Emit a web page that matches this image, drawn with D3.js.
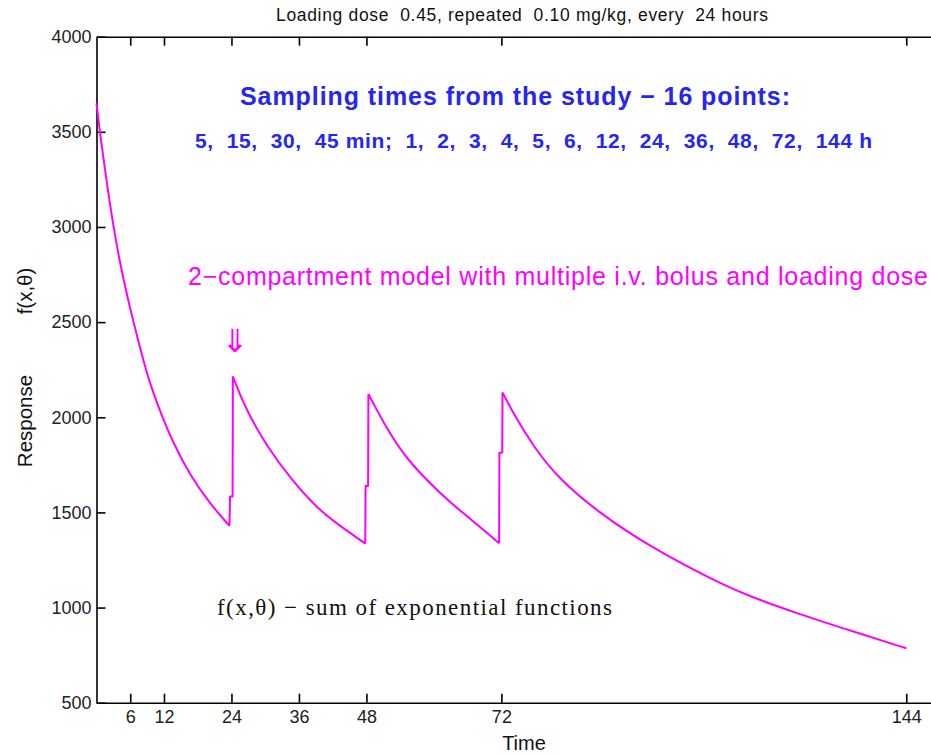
<!DOCTYPE html>
<html>
<head>
<meta charset="utf-8">
<script src="https://cdn.jsdelivr.net/npm/d3@7"></script>
<style>
  body { margin: 0; background: #fff; }
  svg { display: block; }
  .axis path, .axis line { stroke: #000; stroke-width: 1.6; }
  .axis text { font-family: 'Liberation Sans', Arial, sans-serif; font-size: 18px; fill: #222; }
</style>
</head>
<body>
<svg id="svg" width="931" height="754"></svg>
<script>
const MARGIN = { left: 96.5, top: 36.7, right: 940, bottom: 702.7 }

// response curve (hours, response)
const timeH = [0, 0.6, 1.5, 3.0, 4.5, 6.55, 8.5, 9.3, 10.45, 11.6, 13.4, 16.7, 20.2, 23.65,
  23.75, 24.2, 24.25, 25.5, 27.0, 30.3, 35.0, 39.2, 42, 45.1, 47.8,
  47.85, 48.3, 48.35, 50, 51.3, 54.9, 61.1, 65, 68.8, 71.6,
  71.65, 72.15, 72.2, 74.1, 77.7, 82.4, 89.5, 98.4, 109.6, 116, 124.5, 135, 144]
const response = [3650, 3500, 3300, 3000, 2760, 2500, 2280, 2200, 2100, 2010, 1880, 1690, 1545, 1429,
  1583, 1583, 2215, 2120, 2021, 1845, 1660, 1525, 1458, 1392, 1336,
  1639, 1639, 2122, 2030, 1960, 1785, 1600, 1500, 1410, 1338,
  1814, 1814, 2131, 2021, 1845, 1670, 1495, 1320, 1145, 1060, 970, 870, 786]

const xTicks = [6, 12, 24, 36, 48, 72, 144]
const yTicks = [500, 1000, 1500, 2000, 2500, 3000, 3500, 4000]

const svg = d3.select('svg')

const x = d3.scaleLinear().domain([0, 150]).range([MARGIN.left, MARGIN.right])
const y = d3.scaleLinear().domain([500, 4000]).range([MARGIN.bottom, MARGIN.top])

// axes box, ticks point inward
svg.append('g')
  .attr('class', 'axis')
  .attr('transform', 'translate(0,' + MARGIN.bottom + ')')
  .call(d3.axisBottom(x).tickValues(xTicks).tickSize(-9).tickPadding(8).tickSizeOuter(0))
svg.append('g')
  .attr('class', 'axis')
  .attr('transform', 'translate(0,' + MARGIN.top + ')')
  .call(d3.axisTop(x).tickValues(xTicks).tickSize(-9).tickFormat('').tickSizeOuter(0))
svg.append('g')
  .attr('class', 'axis')
  .attr('transform', 'translate(' + MARGIN.left + ',0)')
  .call(d3.axisLeft(y).tickValues(yTicks).tickFormat(d3.format('d')).tickSize(-9).tickPadding(5).tickSizeOuter(0))

svg.selectAll('.axis .domain').attr('stroke-width', 2)

// curve: decays drawn smooth, dose jumps drawn straight
const pts = timeH.map((t, i) => [t, response[i]])
const pieces = []
let cur = [pts[0]]
let rising = false
for (let i = 1; i < pts.length; i++) {
  const d = pts[i][1] - pts[i - 1][1]
  const up = d > 0 ? true : d < 0 ? false : rising
  if (up !== rising) {
    pieces.push({ rising, pts: cur })
    cur = [pts[i - 1]]
    rising = up
  }
  cur.push(pts[i])
}
pieces.push({ rising, pts: cur })

const lineSmooth = d3.line().x(d => x(d[0])).y(d => y(d[1])).curve(d3.curveBasis)
const lineStraight = d3.line().x(d => x(d[0])).y(d => y(d[1]))

svg.append('path')
  .attr('fill', 'none')
  .attr('stroke', '#ff00ff')
  .attr('stroke-width', 2)
  .attr('stroke-linejoin', 'round')
  .attr('d', pieces.map(p => (p.rising ? lineStraight : lineSmooth)(p.pts)).join(''))

// texts
const sans = "'Liberation Sans', Arial, sans-serif"
const serif = "'Liberation Serif', 'Times New Roman', serif"

function label (tx, ty, str, size, opts = {}) {
  const t = svg.append('text')
    .attr('x', tx).attr('y', ty)
    .style('font-family', opts.family || sans)
    .style('font-size', size + 'px')
    .style('white-space', 'pre')
    .attr('fill', opts.fill || '#111')
    .text(str)
  if (opts.bold) t.style('font-weight', 'bold')
  if (opts.len) t.attr('textLength', opts.len).attr('lengthAdjust', 'spacing')
  if (opts.anchor) t.attr('text-anchor', opts.anchor)
  return t
}

label(276, 21, 'Loading dose  0.45, repeated  0.10 mg/kg, every  24 hours', 17.5, { len: 492 })
label(240, 105, 'Sampling times from the study − 16 points:', 25, { bold: true, fill: '#2626f2', len: 550 })
label(195, 148, '5,  15,  30,  45 min;  1,  2,  3,  4,  5,  6,  12,  24,  36,  48,  72,  144 h', 21,
  { bold: true, fill: '#2626f2', len: 677 })
label(188, 285, '2−compartment model with multiple i.v. bolus and loading dose', 25, { fill: '#ff00ff', len: 740 })
label(235, 352, '⇓', 32, { family: "'DejaVu Sans', sans-serif", fill: '#ff00ff', anchor: 'middle' })
label(217, 615, 'f(x,θ) − sum of exponential functions', 23, { family: serif, len: 395 })

// y label, two words spread apart
label(0, 0, 'Response', 20.5, { anchor: 'middle' })
  .attr('transform', 'translate(32,421) rotate(-90)')
label(0, 0, 'f(x,θ)', 20.5, { anchor: 'middle' })
  .attr('transform', 'translate(32,291) rotate(-90)')

label(524, 750, 'Time', 20, { anchor: 'middle' })
</script>
</body>
</html>
